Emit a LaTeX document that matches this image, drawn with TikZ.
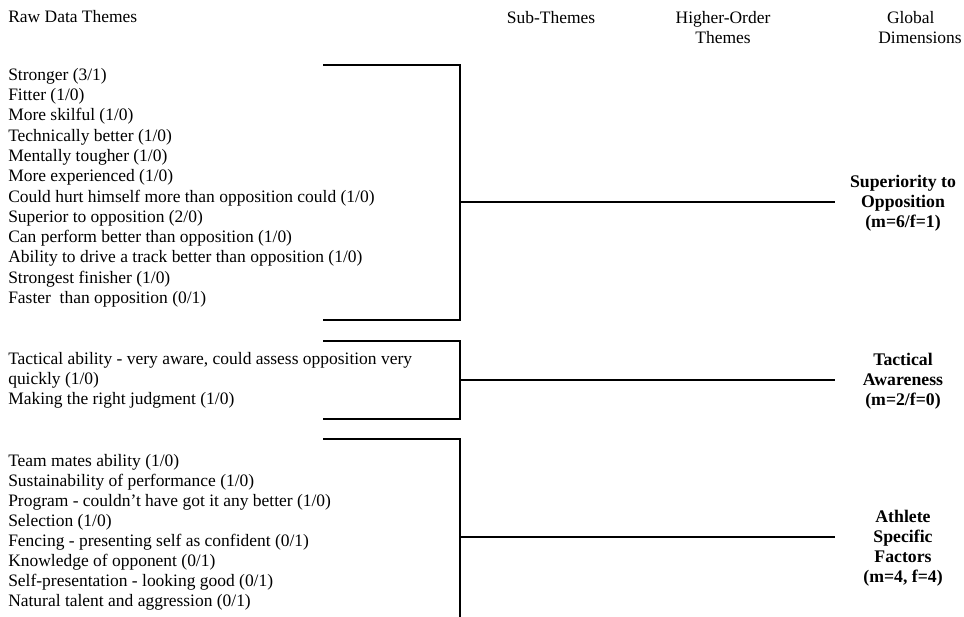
\documentclass[tikz,border=0pt]{standalone}
\usepackage{fontspec}
\setmainfont{Liberation Serif}
\tikzset{
  item/.style={anchor=west, inner sep=0pt, font=\fontsize{13.1}{15}\selectfont},
  head/.style={inner sep=0pt, align=center, font=\fontsize{13.1}{15}\selectfont},
  dim/.style={inner sep=0pt, align=center, font=\fontsize{13.3}{15}\selectfont\bfseries},
  bracket/.style={line width=1.1pt}
}
\begin{document}
\begin{tikzpicture}[x=0.75pt, y=-0.75pt]
			\useasboundingbox (0,0) rectangle (964,617);
			
			% column headings
			\node[item] (hraw) at (8,17) {Raw Data Themes};
			\node[head] (hsub) at (551,18) {Sub-Themes};
			\node[head] (hhigh) at (723,28) {Higher-Order\\Themes};
			\node[head, anchor=east, align=left] (hglob) at (962,28) {\ \ Global\\Dimensions};
			
			% raw data themes, first group
			\node[item] (s1) at (8,76) {Stronger (3/1)};
			\node[item] (s2) at (8,96.3) {Fitter (1/0)};
			\node[item] (s3) at (8,116.6) {More skilful (1/0)};
			\node[item] (s4) at (8,136.9) {Technically better (1/0)};
			\node[item] (s5) at (8,157.2) {Mentally tougher (1/0)};
			\node[item] (s6) at (8,177.5) {More experienced (1/0)};
			\node[item] (s7) at (8,197.8) {Could hurt himself more than opposition could (1/0)};
			\node[item] (s8) at (8,218.1) {Superior to opposition (2/0)};
			\node[item] (s9) at (8,238.4) {Can perform better than opposition (1/0)};
			\node[item] (s10) at (8,258.7) {Ability to drive a track better than opposition (1/0)};
			\node[item] (s11) at (8,279) {Strongest finisher (1/0)};
			\node[item] (s12) at (8,299.3) {Faster\ \ than opposition (0/1)};
			
			% second group
			\node[item] (t1) at (8,360) {Tactical ability - very aware, could assess opposition very};
			\node[item] (t2) at (8,380) {quickly (1/0)};
			\node[item] (t3) at (8,400) {Making the right judgment (1/0)};
			
			% third group
			\node[item] (a1) at (8,462) {Team mates ability (1/0)};
			\node[item] (a2) at (8,482) {Sustainability of performance (1/0)};
			\node[item] (a3) at (8,502) {Program - couldn't have got it any better (1/0)};
			\node[item] (a4) at (8,522) {Selection (1/0)};
			\node[item] (a5) at (8,542) {Fencing - presenting self as confident (0/1)};
			\node[item] (a6) at (8,562) {Knowledge of opponent (0/1)};
			\node[item] (a7) at (8,582) {Self-presentation - looking good (0/1)};
			\node[item] (a8) at (8,602) {Natural talent and aggression (0/1)};
			
			% global dimensions
			\node[dim] (sup) at (903,203) {Superiority to\\Opposition\\(m=6/f=1)};
			\node[dim] (tac) at (903,381) {Tactical\\Awareness\\(m=2/f=0)};
			\node[dim] (ath) at (903,548) {Athlete\\Specific\\Factors\\(m=4, f=4)};
			
			% bracket corners
			\coordinate (b1t) at (323,65);
			\coordinate (b1b) at (323,320);
			\coordinate (b1m) at (460,202);
			\coordinate (b1e) at (835,202);
			\coordinate (b2t) at (323,341);
			\coordinate (b2b) at (323,419);
			\coordinate (b2m) at (460,380);
			\coordinate (b2e) at (835,380);
			\coordinate (b3t) at (323,439);
			\coordinate (b3b) at (460,617);
			\coordinate (b3m) at (460,537);
			\coordinate (b3e) at (835,537);
			
			\draw[bracket] (b1t) -| (b1m) |- (b1b);
			\draw[bracket] (b2t) -| (b2m) |- (b2b);
			\draw[bracket] (b3t) -| (b3b);
			
			\draw[bracket] (b1m) -- (b1e);
			\draw[bracket] (b2m) -- (b2e);
			\draw[bracket] (b3m) -- (b3e);
		\end{tikzpicture}
\end{document}
